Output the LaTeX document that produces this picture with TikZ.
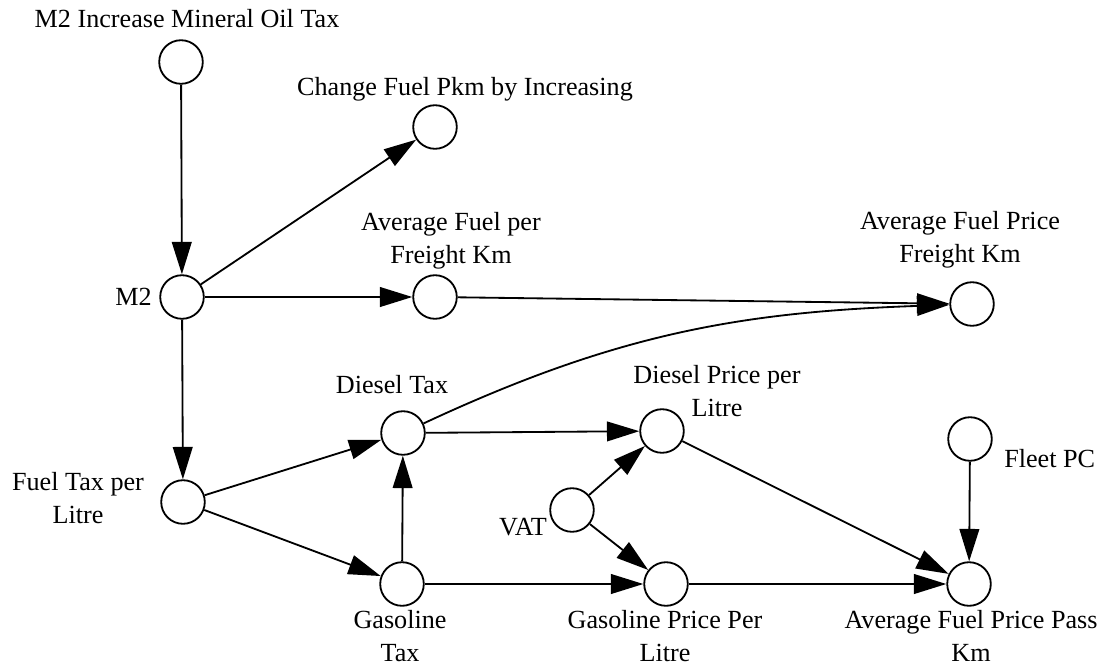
\documentclass[tikz,border=0pt]{standalone}
\usepackage{fontspec}
\setmainfont{Liberation Serif}
\usetikzlibrary{arrows.meta}
\tikzset{
  var/.style={draw,circle,minimum size=31pt,inner sep=0pt,line width=1.3pt},
  txt/.style={align=center,inner sep=0pt,font=\fontsize{18.6}{23.4}\selectfont},
  link/.style={line width=1.3pt,-{Triangle[length=23pt,width=14pt]}}
}
\begin{document}
\begin{tikzpicture}[x=0.025cm,y=-0.025cm]
  \useasboundingbox (0,0) rectangle (1109,665);
  \node[var] (tax) at (181,62) {};
  \node[var] (chg) at (435,127) {};
  \node[var] (m2) at (182,297) {};
  \node[var] (afk) at (435,297) {};
  \node[var] (apf) at (972,304) {};
  \node[var] (dt) at (403,433) {};
  \node[var] (dp) at (662,431) {};
  \node[var] (fleet) at (970,439) {};
  \node[var] (ftl) at (183,502) {};
  \node[var] (vat) at (572,510) {};
  \node[var] (gt) at (402,584) {};
  \node[var] (gp) at (666,584) {};
  \node[var] (app) at (969,584) {};

  \node[txt,anchor=base] (tax-t) at (187,27) {M2 Increase Mineral Oil Tax};
  \node[txt,anchor=base] (chg-t) at (465,95) {Change Fuel Pkm by Increasing};
  \node[txt,anchor=base east] (m2-t) at (152,305) {M2};
  \node[txt] (afk-t) at (451,241) {Average Fuel per\\Freight Km};
  \node[txt] (apf-t) at (960,240) {Average Fuel Price\\Freight Km};
  \node[txt,anchor=base] (dt-t) at (392,393) {Diesel Tax};
  \node[txt] (dp-t) at (717,391) {Diesel Price per\\Litre};
  \node[txt,anchor=base west] (fleet-t) at (1004,467) {Fleet PC};
  \node[txt] (ftl-t) at (78,498) {Fuel Tax per\\Litre};
  \node[txt,anchor=base east] (vat-t) at (547,535) {VAT};
  \node[txt] (gt-t) at (400,636) {Gasoline\\Tax};
  \node[txt] (gp-t) at (665,636) {Gasoline Price Per\\Litre};
  \node[txt] (app-t) at (971,636) {Average Fuel Price Pass\\Km};

  \begin{scope}[link]
    \draw (tax) to (m2);
    \draw (m2) to (chg);
    \draw (m2) to (afk);
    \draw (m2) to (ftl);
    \draw (afk) to (apf);
    \draw (dt) to[out=25,in=182] (apf);
    \draw (ftl) to (dt);
    \draw (ftl) to (gt);
    \draw (gt) to (dt);
    \draw (dt) to (dp);
    \draw (gt) to (gp);
    \draw (vat) to (dp);
    \draw (vat) to (gp);
    \draw (dp) to (app);
    \draw (gp) to (app);
    \draw (fleet) to (app);
  \end{scope}
\end{tikzpicture}
\end{document}
